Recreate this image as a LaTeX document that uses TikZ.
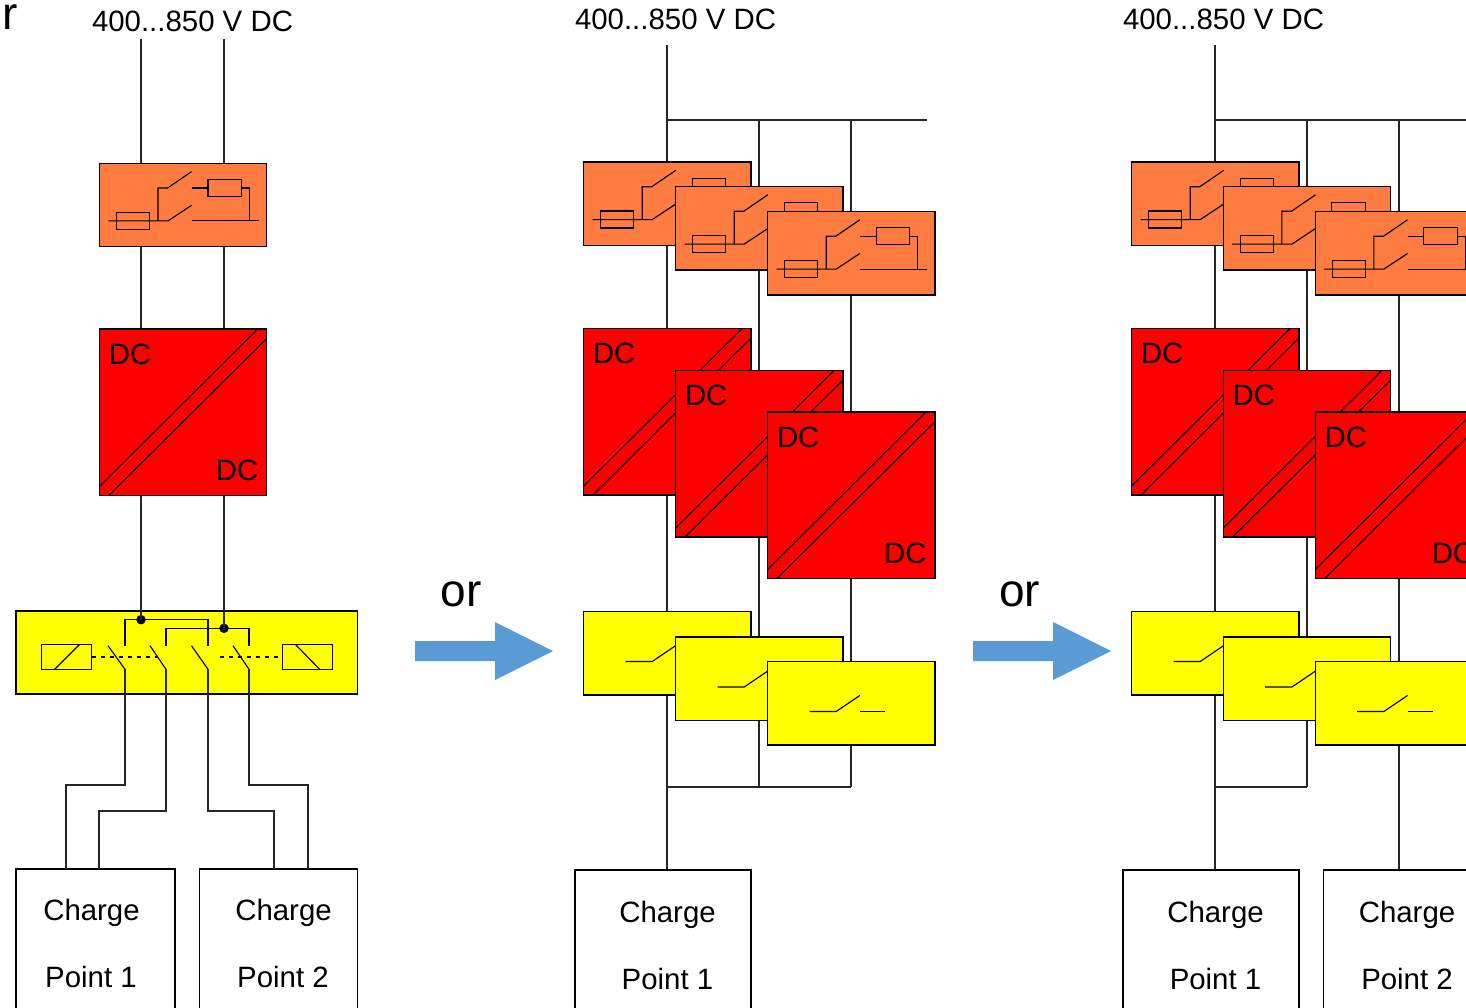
\documentclass[tikz,border=0pt]{standalone}
\usepackage{fontspec}
\setmainfont{Liberation Sans}
\usetikzlibrary{calc}
\definecolor{orangefill}{HTML}{FF7C40}
\definecolor{arrowblue}{HTML}{5B9BD5}
\definecolor{purered}{HTML}{FF0000}
\definecolor{pureyellow}{HTML}{FFFF00}
\pgfdeclarelayer{wires}
\pgfsetlayers{wires,main}
\tikzset{
  x=1pt,y=-1pt,
  wire/.style={line width=1.3pt,draw=black!85},
  thin wire/.style={line width=1.15pt,draw=black},
  modbox/.style={draw=black,line width=1.2pt,anchor=north west,inner sep=0pt,outer sep=0pt,minimum width=#1},
  orangebox/.style={modbox=167.5pt,fill=orangefill,minimum height=83.5pt},
  redbox/.style={modbox=167.5pt,fill=purered,minimum height=166.5pt},
  yellowbox/.style={modbox=167.5pt,fill=pureyellow,minimum height=83.5pt},
  chargebox/.style={draw=black,line width=1.1pt,fill=white,anchor=north west,inner sep=0pt,outer sep=0pt},
  txt/.style={font=\fontsize{29.4}{32}\selectfont,inner sep=0pt,outer sep=0pt},
  bigtxt/.style={font=\fontsize{46}{50}\selectfont,inner sep=0pt,outer sep=0pt},
  flowarrow/.style={fill=arrowblue,draw=none},
  dot/.style={circle,fill=black,inner sep=0pt,minimum size=9.5pt},
}
\newcommand{\orangemod}[3]{%
  \node[orangebox] (#1) at (#2,#3) {};
  \begin{scope}[shift={(#2,#3)},thin wire]
    \draw (17,49) rectangle (50.3,66);
    \draw (9,57.6) -- (68.7,57.6) -- (92.3,42);
    \draw (58.7,57.6) -- (58.7,24.7) -- (68.3,24.7) -- (92.3,8.3);
    \draw (92.3,24.7) -- (108.7,24.7);
    \draw (108.7,16.3) rectangle (142.3,33);
    \draw (142.3,24.7) -- (150.3,24.7) -- (150.3,57.6);
    \draw (92.3,57.6) -- (159.7,57.6);
  \end{scope}}
\newcommand{\redmod}[3]{%
  \node[redbox] (#1) at (#2,#3) {};
  \begin{scope}[shift={(#2,#3)}]
    \draw[thin wire] (0,157.7) -- (158.5,0);
    \draw[thin wire] (9.5,166.5) -- (167.5,9.5);
    \node[txt,anchor=base west] (#1a) at (9.5,35) {DC};
    \node[txt,anchor=base east] (#1b) at (159,151) {DC};
  \end{scope}}
\newcommand{\yellowmod}[3]{%
  \node[yellowbox] (#1) at (#2,#3) {};
  \begin{scope}[shift={(#2,#3)},thin wire]
    \draw (42,50) -- (68.7,50) -- (92.3,34);
    \draw (92.3,50) -- (117.3,50);
  \end{scope}}
\newcommand{\chargemod}[6]{% name, x, width, y, number, text centre x
  \node[chargebox,minimum width=#3,minimum height=160pt] (#1) at (#2,#4) {};
  \node[txt,anchor=base] (#1a) at (#6,922) {Charge};
  \node[txt,anchor=base] (#1b) at (#6,989) {Point #5};}
\begin{document}
\begin{tikzpicture}
\clip (0,0) rectangle (1466,1008);
\begin{pgfonlayer}{wires}
\fill[white] (0,0) rectangle (1466,1008);
\end{pgfonlayer}

% ---------- left panel
\node[bigtxt,anchor=base west] (rr) at (2,30) {r};
\node[txt,anchor=base west] (lv) at (92,32) {400...850 V DC};
\coordinate (la) at (141,39);
\coordinate (lb) at (224,39);
\orangemod{lo}{99.3}{163.3}
\redmod{lr}{99.3}{329}
\node[modbox=341.5pt,fill=pureyellow,minimum height=83pt] (ly) at (16,611) {};
\node[chargebox,minimum width=159pt,minimum height=160pt] (lc1) at (16,869) {};
\node[chargebox,minimum width=158pt,minimum height=160pt] (lc2) at (199.5,869) {};
\node[txt,anchor=base] (lc1a) at (91.5,920.5) {Charge};
\node[txt,anchor=base] (lc1b) at (91,987.5) {Point 1};
\node[txt,anchor=base] (lc2a) at (283.5,920.5) {Charge};
\node[txt,anchor=base] (lc2b) at (283,987.5) {Point 2};
% contactor detail
\node[dot] (da) at (141,619.7) {};
\node[dot] (db) at (224,628.3) {};
\coordinate (s1) at (125,669.3);
\coordinate (s2) at (166,669.3);
\coordinate (s3) at (208,669.3);
\coordinate (s4) at (249,669.3);
\draw[thin wire] (41.3,644.7) rectangle (91.7,669.7);
\draw[thin wire] (54.3,669.7) -- (79.3,644.7);
\draw[thin wire] (282.3,644.7) rectangle (332.7,669.7);
\draw[thin wire] (295.7,644.7) -- (320,669.7);
\draw[thin wire,dash pattern=on 4pt off 5pt] (91.7,657) -- (157,657);
\draw[thin wire,dash pattern=on 4pt off 5pt] (220,657) -- (282.3,657);
\draw[thin wire] (108,645.7) -- (s1);
\draw[thin wire] (150,645.7) -- (s2);
\draw[thin wire] (191.5,645.7) -- (s3);
\draw[thin wire] (233,645.7) -- (s4);
\draw[thin wire] (125,645.7) |- (da.center) -| (208,645.7);
\draw[thin wire] (166,645.7) |- (db.center) -| (249,645.7);
\begin{pgfonlayer}{wires}
  \draw[wire] (la) -- (la |- lo.north);
  \draw[wire] (lb) -- (lb |- lo.north);
  \draw[wire] (la |- lo.south) -- (la |- lr.north);
  \draw[wire] (lb |- lo.south) -- (lb |- lr.north);
\end{pgfonlayer}
\draw[wire] (la |- lr.south) -- (da.center);
\draw[wire] (lb |- lr.south) -- (db.center);
\draw[wire] (s1) -- (125,785) -- (66,785) -- (66,869);
\draw[wire] (s2) -- (166,811) -- (99,811) -- (99,869);
\draw[wire] (s3) -- (208,811) -- (274,811) -- (274,869);
\draw[wire] (s4) -- (249,785) -- (308,785) -- (308,869);

% ---------- flow arrows and "or"
\node[bigtxt,anchor=base] (or1) at (461,606) {or};
\node[bigtxt,anchor=base] (or2) at (1019.5,606) {or};
\fill[flowarrow] (415,641) -- (495,641) -- (495,622) -- (553,651) -- (495,680) -- (495,661) -- (415,661) -- cycle;
\fill[flowarrow] (973,641) -- (1053,641) -- (1053,622) -- (1111,651) -- (1053,680) -- (1053,661) -- (973,661) -- cycle;

% ---------- middle panel
\node[txt,anchor=base west] (mv) at (575,30) {400...850 V DC};
\coordinate (mt) at (667,45);
\coordinate (mj1) at (667,120);
\coordinate (mj2) at (759,120);
\coordinate (mj3) at (851,120);
\coordinate (mend) at (927,120);
\coordinate (mk1) at (667,787);
\coordinate (mk2) at (759,787);
\coordinate (mk3) at (851,787);
\orangemod{mo1}{583.5}{162}
\orangemod{mo2}{675.5}{186.5}
\orangemod{mo3}{767.5}{211.5}
\redmod{mr1}{583.5}{328.5}
\redmod{mr2}{675.5}{370.5}
\redmod{mr3}{767.5}{412}
\yellowmod{my1}{583.5}{611.5}
\yellowmod{my2}{675.5}{637}
\yellowmod{my3}{767.5}{661.5}
\chargemod{mc}{575}{176pt}{870}{1}{667.5}
\begin{pgfonlayer}{wires}
  \draw[wire] (mt) -- (mt |- mc.north);
  \draw[wire] (mj1) -- (mend);
  \draw[wire] (mj2) -- (mk2);
  \draw[wire] (mj3) -- (mk3);
  \draw[wire] (mk1) -- (mk3);
\end{pgfonlayer}

% ---------- right panel
\node[txt,anchor=base west] (rv) at (1123,30) {400...850 V DC};
\coordinate (rt) at (1215,45);
\coordinate (rj1) at (1215,120);
\coordinate (rj2) at (1307,120);
\coordinate (rj3) at (1399,120);
\coordinate (rend) at (1466,120);
\coordinate (rk1) at (1215,787);
\coordinate (rk2) at (1307,787);
\orangemod{ro1}{1131.5}{162}
\orangemod{ro2}{1223.2}{186.5}
\orangemod{ro3}{1315.2}{211.5}
\redmod{rr1}{1131.5}{328.5}
\redmod{rr2}{1223.2}{370.5}
\redmod{rr3}{1315.2}{412}
\yellowmod{ry1}{1131.5}{611.5}
\yellowmod{ry2}{1223.2}{637}
\yellowmod{ry3}{1315.2}{661.5}
\chargemod{rc1}{1123}{176pt}{870}{1}{1215.5}
\chargemod{rc2}{1323.5}{167pt}{870}{2}{1407}
\begin{pgfonlayer}{wires}
  \draw[wire] (rt) -- (rt |- rc1.north);
  \draw[wire] (rj1) -- (rend);
  \draw[wire] (rj2) -- (rk2);
  \draw[wire] (rj3) -- (rj3 |- rc2.north);
  \draw[wire] (rk1) -- (rk2);
\end{pgfonlayer}
\end{tikzpicture}
\end{document}
